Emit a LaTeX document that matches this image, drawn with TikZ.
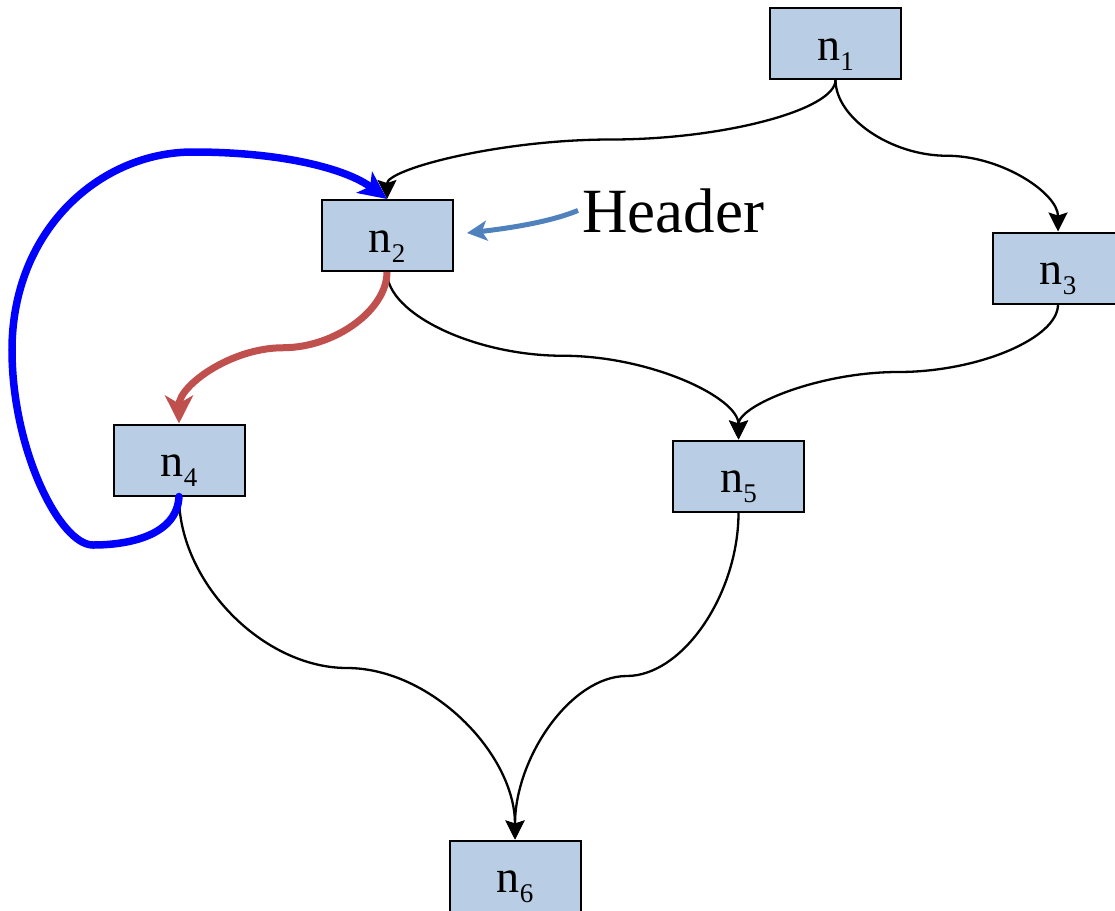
\documentclass[tikz,border=0pt]{standalone}
\usepackage{fontspec}
\setmainfont{Liberation Serif}
\usetikzlibrary{arrows.meta,calc}

\definecolor{boxfill}{RGB}{185,205,228}
\definecolor{backred}{RGB}{192,80,77}
\definecolor{loopblue}{RGB}{0,0,255}
\definecolor{steel}{RGB}{79,129,189}

% node label: letter n with a lowered index
\newcommand\nlabel[1]{n\raisebox{-10pt}{\fontsize{27}{27}\selectfont #1}}

\tikzset{
  blk/.style={draw=black, line width=2pt, fill=boxfill,
    minimum width=131pt, minimum height=71pt, inner sep=0pt,
    text height=33pt, text depth=0pt,
    font=\fontsize{46}{46}\selectfont},
  % two-piece spline: vertical at both ends, horizontal at the midpoint
  spl/.style={to path={
    let \p1=(\tikztostart), \p2=(\tikztotarget),
        \p3=($(\p1)!0.5!(\p2)$) in
    .. controls (\x1,{\y1+0.5*(\y3-\y1)}) and ({\x3+0.5*(\x1-\x3)},\y3) .. (\p3)
    .. controls ({\x3+0.5*(\x2-\x3)},\y3) and (\x2,{\y2+0.5*(\y3-\y2)}) .. (\tikztotarget)}},
  edge/.style={draw=black, line width=2.3pt,
    -{Stealth[length=19pt,width=19pt,inset=3pt]}},
  redge/.style={draw=backred, line width=7pt,
    -{Stealth[length=28pt,width=28pt,inset=8pt]}},
  bedge/.style={draw=loopblue, line width=7.5pt, line cap=round,
    -{Stealth[length=28pt,width=26pt,inset=7pt]}},
  sedge/.style={draw=steel, line width=5pt,
    -{Stealth[length=20pt,width=20pt,inset=5pt]}},
}

\begin{document}
\begin{tikzpicture}[x=1pt,y=-1pt]
  \clip (0,0) rectangle (1115,910);

  \node[blk] (n1) at (835.5,43.5) {\nlabel{1}};
  \node[blk] (n2) at (387,235.5)  {\nlabel{2}};
  \node[blk] (n3) at (1058,268)   {\nlabel{3}};
  \node[blk] (n4) at (179,460)    {\nlabel{4}};
  \node[blk] (n5) at (738.5,476)  {\nlabel{5}};
  \node[blk] (n6) at (515,876)    {\nlabel{6}};

  \node[anchor=base west, inner sep=0pt, font=\fontsize{63}{63}\selectfont]
    (hdr) at (582,232) {Header};
  \coordinate (hdrtip) at (467,233);

  % plain black edges
  \draw[edge] (n1.south) to[spl] (n2.north);
  \draw[edge] (n1.south) to[spl] (n3.north);
  \draw[edge] (n2.south) to[spl] (n5.north);
  \draw[edge] (n3.south) to[spl] (n5.north);
  \draw[edge] (n4.south) to[spl] (n6.north);
  \draw[edge] (n5.south) to[spl] (n6.north);

  % highlighted edges
  \draw[redge] (n2.south) to[spl] (n4.north);
  \draw[bedge] (n4.south)
    .. controls (177,535) and (130,545) .. (93,545)
    .. controls (60,545) and (12,450) .. (12,350)
    .. controls (12,230) and (100,152) .. (193,152)
    .. controls (280,152) and (345,168) .. (n2.north);

  % pointer from the label
  \draw[sedge] ([xshift=-4pt]hdr.west)
    .. controls (555,220) and (520,227) .. (hdrtip);
\end{tikzpicture}
\end{document}
